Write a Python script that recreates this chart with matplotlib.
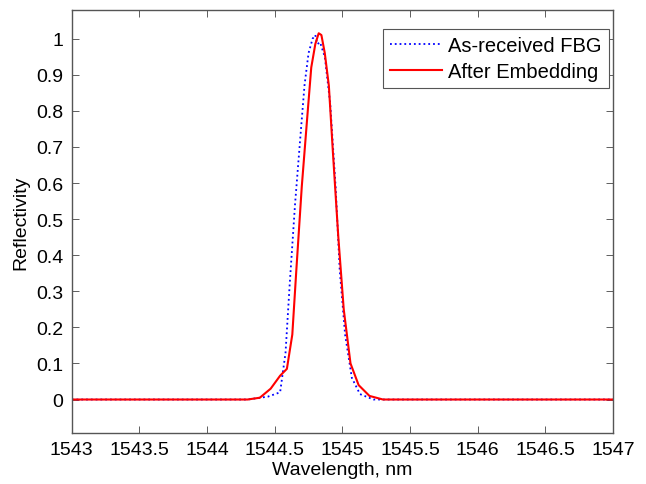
import matplotlib
matplotlib.use("Agg")
import matplotlib.pyplot as plt

plt.rcParams["font.family"] = ["Liberation Sans", "DejaVu Sans"]
plt.rcParams["font.size"] = 14

# As-received FBG
wl_fbg = [1543.0, 1544.30, 1544.45, 1544.54, 1544.58, 1544.61, 1544.65, 1544.69,
          1544.72, 1544.75, 1544.78, 1544.80, 1544.815, 1544.835, 1544.87,
          1544.91, 1544.95, 1544.98, 1545.02, 1545.07, 1545.13, 1545.23, 1547.0]
refl_fbg = [0.0, 0.0, 0.008, 0.02, 0.13, 0.315, 0.54, 0.73,
            0.87, 0.96, 1.0, 1.01, 0.985, 0.99, 0.95,
            0.82, 0.59, 0.36, 0.18, 0.06, 0.015, 0.0, 0.0]

# After embedding
wl_emb = [1543.0, 1544.30, 1544.39, 1544.47, 1544.54, 1544.59, 1544.63, 1544.66,
          1544.70, 1544.74, 1544.77, 1544.80, 1544.825, 1544.845, 1544.87, 1544.90,
          1544.93, 1544.97, 1545.01, 1545.06, 1545.12, 1545.20, 1545.30, 1547.0]
refl_emb = [0.0, 0.0, 0.005, 0.03, 0.066, 0.085, 0.18, 0.36,
            0.59, 0.78, 0.92, 0.985, 1.015, 1.01, 0.96, 0.87,
            0.685, 0.45, 0.25, 0.10, 0.04, 0.01, 0.0, 0.0]

fig = plt.figure(figsize=(6.46, 4.85), dpi=100)
ax = fig.add_axes([0.111, 0.105, 0.838, 0.872])

ax.plot(wl_fbg, refl_fbg, color="#0000ff", linestyle=":", linewidth=1.3,
        label="As-received FBG")
ax.plot(wl_emb, refl_emb, color="#ff0000", linestyle="-", linewidth=1.5,
        label="After Embedding")

ax.set_xlim(1543, 1547)
ax.set_ylim(-0.093, 1.079)
ax.set_xticks([1543 + 0.5 * i for i in range(9)])
ax.set_xticklabels(["1543", "1543.5", "1544", "1544.5", "1545", "1545.5",
                    "1546", "1546.5", "1547"])
ax.set_yticks([0.1 * i for i in range(11)])
ax.set_yticklabels(["0", "0.1", "0.2", "0.3", "0.4", "0.5", "0.6", "0.7",
                    "0.8", "0.9", "1"])
ax.tick_params(direction="in", top=True, right=True, length=5, width=0.6,
               color="#444444", pad=6, labelsize=14)
for sp in ax.spines.values():
    sp.set_color("#555555")
    sp.set_linewidth(1.0)

ax.set_xlabel("Wavelength, nm", labelpad=2)
ax.set_ylabel("Reflectivity", labelpad=5)

leg = ax.legend(loc="upper right", bbox_to_anchor=(0.9926, 0.955),
                fancybox=False, framealpha=1, edgecolor="#555555",
                handlelength=2.6, handletextpad=0.3, borderpad=0.35,
                labelspacing=0.35, borderaxespad=0, fontsize=14.5)
leg.get_frame().set_linewidth(0.8)

fig.savefig("out.png", dpi=100)
